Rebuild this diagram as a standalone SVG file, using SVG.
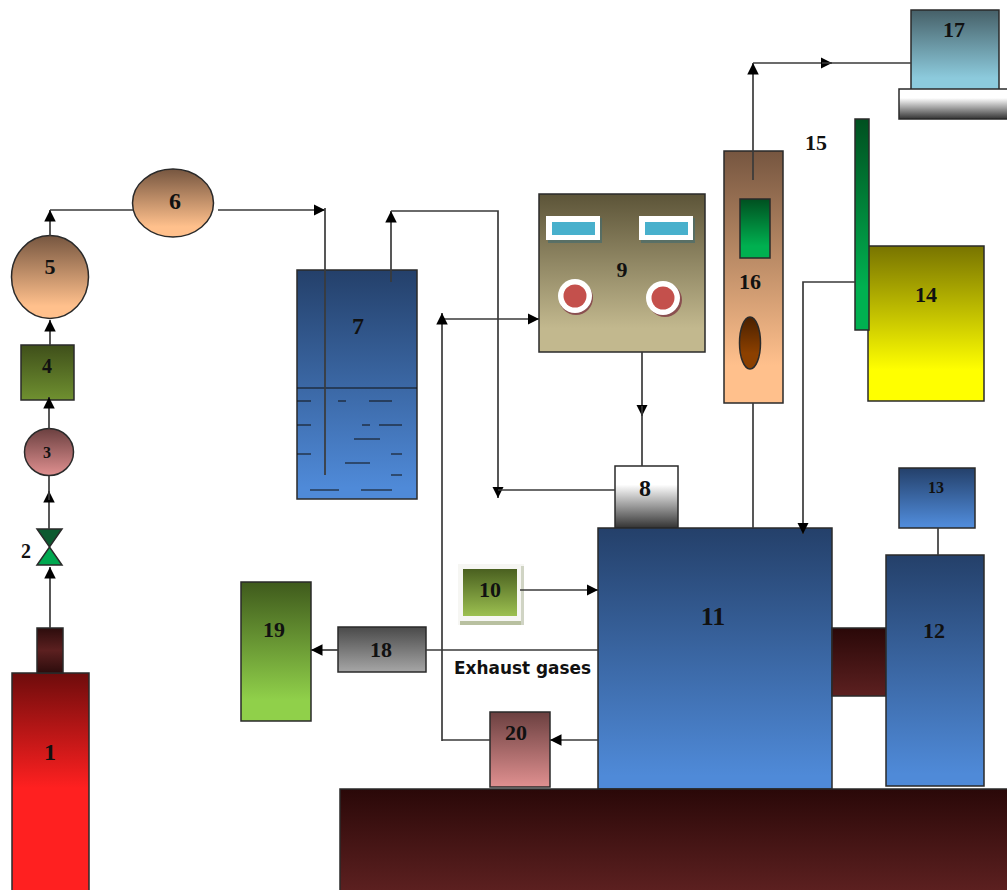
<svg xmlns="http://www.w3.org/2000/svg" width="1007" height="890" viewBox="0 0 1007 890">
<style>
.n{stroke:#2a2a2a;stroke-width:1.5}
.t{font-family:"Liberation Serif",serif;font-weight:bold;fill:#111;text-anchor:middle}
.c{fill:none;stroke:#3a3a3a;stroke-width:1.7}
.d{stroke:#111;stroke-width:1.2;fill:none}
</style>
<defs>
<marker id="a" viewBox="0 0 10 10" refX="10" refY="5" markerWidth="11.500" markerHeight="11.500" markerUnits="userSpaceOnUse" orient="auto"><path d="M0 0L10 5L0 10z" fill="#000"/></marker>
<linearGradient id="red" x1="0" y1="0" x2="0" y2="1"><stop offset="0" stop-color="#6e0c0c"/><stop offset=".5" stop-color="#ff2020"/><stop offset="1" stop-color="#ff2020"/></linearGradient>
<linearGradient id="dred" x1="0" y1="0" x2="0" y2="1"><stop offset="0" stop-color="#2a0808"/><stop offset="1" stop-color="#5c2020"/></linearGradient>
<linearGradient id="neck" x1="0" y1="0" x2="0" y2="1"><stop offset="0" stop-color="#2c0c0c"/><stop offset=".5" stop-color="#5c2020"/><stop offset="1" stop-color="#2c0c0c"/></linearGradient>
<linearGradient id="pink" x1="0" y1="0" x2="0" y2="1"><stop offset="0" stop-color="#6b4040"/><stop offset="1" stop-color="#e09090"/></linearGradient>
<linearGradient id="olive" x1="0" y1="0" x2="0" y2="1"><stop offset="0" stop-color="#3f4f1a"/><stop offset="1" stop-color="#6f9030"/></linearGradient>
<linearGradient id="tan" x1="0" y1="0" x2="0" y2="1"><stop offset="0" stop-color="#765640"/><stop offset=".85" stop-color="#ffc08c"/></linearGradient>
<linearGradient id="blue" x1="0" y1="0" x2="0" y2="1"><stop offset="0" stop-color="#24406a"/><stop offset=".95" stop-color="#4f8ad8"/></linearGradient>
<linearGradient id="khaki" x1="0" y1="0" x2="0" y2="1"><stop offset="0" stop-color="#5c5438"/><stop offset=".85" stop-color="#c2b88e"/></linearGradient>
<linearGradient id="white" x1="0" y1="0" x2="0" y2="1"><stop offset="0" stop-color="#fff"/><stop offset=".3" stop-color="#fff"/><stop offset="1" stop-color="#333"/></linearGradient>
<linearGradient id="lgreen" x1="0" y1="0" x2="0" y2="1"><stop offset="0" stop-color="#4a6020"/><stop offset="1" stop-color="#9cc050"/></linearGradient>
<linearGradient id="green" x1="0" y1="0" x2="0" y2="1"><stop offset="0" stop-color="#005020"/><stop offset=".8" stop-color="#00b050"/></linearGradient>
<linearGradient id="yellow" x1="0" y1="0" x2="0" y2="1"><stop offset="0" stop-color="#787400"/><stop offset=".8" stop-color="#ffff00"/></linearGradient>
<linearGradient id="sky" x1="0" y1="0" x2="0" y2="1"><stop offset="0" stop-color="#466068"/><stop offset=".85" stop-color="#8ccadc"/></linearGradient>
<linearGradient id="oval" x1="0" y1="0" x2="0" y2="1"><stop offset="0" stop-color="#4a2000"/><stop offset=".7" stop-color="#8c4000"/></linearGradient>
<linearGradient id="grey" x1="0" y1="0" x2="0" y2="1"><stop offset="0" stop-color="#4a4a4a"/><stop offset="1" stop-color="#a6a6a6"/></linearGradient>
<linearGradient id="g19" x1="0" y1="0" x2="0" y2="1"><stop offset="0" stop-color="#3f5a1c"/><stop offset=".85" stop-color="#90d04a"/></linearGradient>
</defs>

<g id="node-1"><rect class="n" x="12" y="673" width="77" height="230" fill="url(#red)"/><rect class="n" x="37" y="628" width="26" height="45" fill="url(#neck)"/><text class="t" x="50" y="760" font-size="24">1</text></g>
<g id="node-2"><path class="n" d="M37 529H62L49.500 547Z" fill="#0d5a30"/><path class="n" d="M37 565H62L49.500 547Z" fill="#00a850"/><text class="t" x="26" y="558" font-size="20">2</text></g>
<g id="node-3"><ellipse class="n" cx="49" cy="452" rx="24.500" ry="23.500" fill="url(#pink)"/><text class="t" x="47" y="458" font-size="16">3</text></g>
<g id="node-4"><rect class="n" x="21" y="345" width="53" height="55" fill="url(#olive)"/><text class="t" x="47" y="373" font-size="20">4</text></g>
<g id="node-5"><ellipse class="n" cx="50" cy="277" rx="38.500" ry="41.500" fill="url(#tan)"/><text class="t" x="50" y="274" font-size="22">5</text></g>
<g id="node-6"><ellipse class="n" cx="173" cy="203" rx="40.500" ry="34" fill="url(#tan)"/><text class="t" x="175" y="209" font-size="24">6</text></g>
<g id="node-7"><rect class="n" x="297" y="270" width="120" height="229" fill="url(#blue)"/><path class="d" d="M297 388H417M297 401H311M338 401H346M369 401H392M297 425H311M362 425H370M379 425H402M354 439H380M297 454H311M345 463H370M391 454H402M391 475H402M310 490H339M361 490H392"/><text class="t" x="358" y="334" font-size="24">7</text></g>
<g id="node-8"><rect class="n" x="615" y="466" width="63" height="62" fill="url(#white)"/><text class="t" x="645" y="496" font-size="24">8</text></g>
<g id="node-9"><rect class="n" x="539" y="194" width="166" height="158" fill="url(#khaki)"/>
<rect x="548" y="218" width="54" height="25" fill="#3f6a70" opacity=".6"/><rect x="546" y="216" width="54" height="24" fill="#fff"/><rect x="552" y="222" width="43" height="13" fill="#48b0cc"/>
<rect x="641" y="218" width="54" height="25" fill="#3f6a70" opacity=".6"/><rect x="639" y="216" width="54" height="24" fill="#fff"/><rect x="645" y="222" width="43" height="13" fill="#48b0cc"/>
<circle cx="576" cy="298" r="17" fill="#8a5050"/><circle cx="575" cy="296" r="17" fill="#fff"/><circle cx="575" cy="296" r="11.500" fill="#c4504c"/>
<circle cx="665" cy="300" r="17" fill="#8a5050"/><circle cx="663" cy="298" r="17" fill="#fff"/><circle cx="663" cy="298" r="11.500" fill="#c4504c"/>
<text class="t" x="622" y="277" font-size="22">9</text></g>
<g id="node-10"><rect x="458" y="564" width="66" height="61" fill="#f6f6f3"/><rect x="460" y="621" width="64" height="4" fill="#b8c0a0"/><rect x="521" y="566" width="3" height="59" fill="#d0d4c4"/><rect x="463" y="569" width="54" height="47" fill="url(#lgreen)"/><text class="t" x="490" y="597" font-size="22">10</text></g>
<g id="node-11"><rect class="n" x="598" y="528" width="234" height="261" fill="url(#blue)"/><text class="t" x="713" y="625" font-size="26">11</text></g>
<g id="node-12"><rect class="n" x="832" y="628" width="54" height="68" fill="url(#dred)"/><rect class="n" x="886" y="555" width="98" height="231" fill="url(#blue)"/><text class="t" x="934" y="638" font-size="22">12</text></g>
<g id="node-13"><rect class="n" x="899" y="468" width="76" height="60" fill="url(#blue)"/><text class="t" x="936" y="493" font-size="16">13</text></g>
<g id="node-14"><rect class="n" x="868" y="246" width="116" height="155" fill="url(#yellow)"/><text class="t" x="926" y="302" font-size="22">14</text></g>
<g id="node-15"><rect class="n" x="855" y="119" width="14" height="211" fill="url(#green)"/><text class="t" x="816" y="150" font-size="22">15</text></g>
<g id="node-16"><rect class="n" x="724" y="151" width="59" height="252" fill="url(#tan)"/><rect class="n" x="740" y="199" width="30" height="59" fill="url(#green)"/><ellipse class="n" cx="750" cy="343" rx="10.500" ry="26" fill="url(#oval)"/><text class="t" x="750" y="289" font-size="22">16</text></g>
<g id="node-17"><rect class="n" x="911" y="10" width="88" height="80" fill="url(#sky)"/><rect class="n" x="899" y="89" width="110" height="30" fill="url(#white)"/><text class="t" x="954" y="37" font-size="22">17</text></g>
<g id="node-18"><rect class="n" x="338" y="627" width="88" height="45" fill="url(#grey)"/><text class="t" x="381" y="657" font-size="22">18</text></g>
<g id="node-19"><rect class="n" x="241" y="582" width="70" height="139" fill="url(#g19)"/><text class="t" x="274" y="637" font-size="22">19</text></g>
<g id="node-20"><rect class="n" x="490" y="712" width="60" height="75" fill="url(#pink)"/><text class="t" x="516" y="740" font-size="22">20</text></g>
<g id="base"><rect class="n" x="340" y="789" width="680" height="102" fill="url(#dred)"/></g>
<text x="522.500" y="674" font-family="'DejaVu Sans',sans-serif" font-weight="bold" font-size="17" fill="#111" text-anchor="middle" textLength="137" lengthAdjust="spacingAndGlyphs">Exhaust gases</text>

<g id="connectors">
<path class="c" d="M50 628V567" marker-end="url(#a)"/>
<path class="c" d="M49 529V491" marker-end="url(#a)"/>
<path class="c" d="M49 500V476"/>
<path class="c" d="M49 429V397" marker-end="url(#a)"/>
<path class="c" d="M50 345V320" marker-end="url(#a)"/>
<path class="c" d="M50 236V210" marker-end="url(#a)"/>
<path class="c" d="M133 210H50"/>
<path class="c" d="M218 210H325" marker-end="url(#a)"/>
<path class="c" d="M325 208V475" stroke="#1a2e48"/>
<path class="c" d="M391 282V211" marker-end="url(#a)"/>
<path class="c" d="M391 211H498V498" marker-end="url(#a)"/>
<path class="c" d="M615 490H498"/>
<path class="c" d="M642 352V416" marker-end="url(#a)"/>
<path class="c" d="M642 406V466"/>
<path class="c" d="M442 319H539" marker-end="url(#a)"/>
<path class="c" d="M442 741V313" marker-end="url(#a)"/>
<path class="c" d="M490 740H442"/>
<path class="c" d="M598 740H550" marker-end="url(#a)"/>
<path class="c" d="M598 650H426"/>
<path class="c" d="M338 650H311" marker-end="url(#a)"/>
<path class="c" d="M520 590H598" marker-end="url(#a)"/>
<path class="c" d="M753 528V403"/>
<path class="c" d="M753 180V63" marker-end="url(#a)"/>
<path class="c" d="M753 63H832" marker-end="url(#a)"/>
<path class="c" d="M822 63H911"/>
<path class="c" d="M855 282H803V534" marker-end="url(#a)"/>
<path class="c" d="M938 528V555"/>
</g>
</svg>
